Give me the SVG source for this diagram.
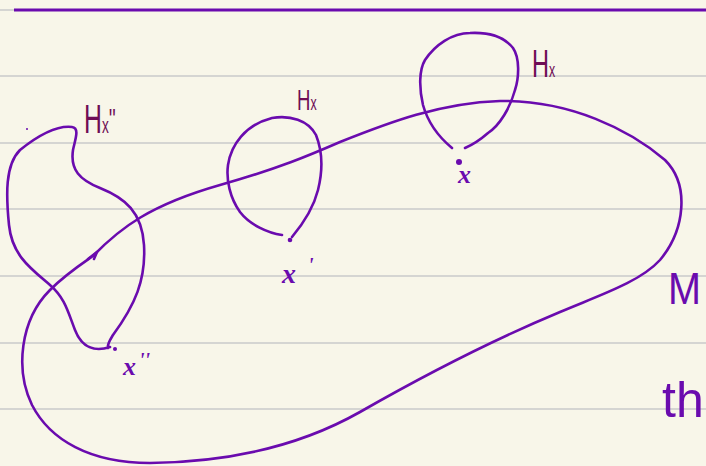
<svg xmlns="http://www.w3.org/2000/svg" width="706" height="466" viewBox="0 0 706 466">
<style>
.rule{stroke:#d5d5d2;stroke-width:2}
.ink{fill:none;stroke:#6a0bae;stroke-width:2.6;stroke-linecap:round;stroke-linejoin:round}
.dot{fill:#6a0bae}
.hl{fill:#6e0d55;font-family:"Liberation Sans",sans-serif}
.pt{fill:#6a0bae;font-family:"Liberation Serif",serif;font-style:italic;font-weight:bold}
.big{fill:#6a0bae;font-family:"Liberation Sans",sans-serif}
</style>
<rect width="706" height="466" fill="#f8f6e9"/>
<g id="paper">
<line class="rule" x1="0" y1="10" x2="14" y2="10"/>
<line class="rule" x1="0" y1="76" x2="706" y2="76"/>
<line class="rule" x1="0" y1="143" x2="706" y2="143"/>
<line class="rule" x1="0" y1="209" x2="706" y2="209"/>
<line class="rule" x1="0" y1="276" x2="706" y2="276"/>
<line class="rule" x1="0" y1="343" x2="706" y2="343"/>
<line class="rule" x1="0" y1="409" x2="706" y2="409"/>
<line x1="14" y1="10" x2="706" y2="10" stroke="#6a0bae" stroke-width="3"/>
</g>
<g id="connectors">
<path class="ink" d="M 93,256 C 120,228 150,205 220,185 C 280,168 310,155 340,142 C 390,122 440,103 500,101 C 570,100 630,130 665,160 C 690,185 685,230 660,260 C 640,282 600,295 560,312 C 500,337 430,372 360,412 C 300,446 230,462 150,463 C 90,463 50,440 32,405 C 15,370 20,320 50,290 C 65,275 80,265 93,256"/>
<path class="ink" d="M 88,259 L 97,252 L 94,259"/>
</g>
<g id="node-x2">
<path class="ink" d="M 110,347 C 95,352 82,348 75,330 C 68,312 65,298 50,285 C 30,268 12,255 9,225 C 6,195 5,165 20,150 C 35,138 55,125 72,127 C 80,128 75,140 73,150 C 70,170 80,180 100,188 C 125,198 142,212 144,245 C 146,280 135,305 113,335 C 110,340 107,344 108,348"/>
<circle class="dot" cx="115" cy="349" r="2"/>
<circle class="dot" cx="27" cy="129" r="1"/>
<text class="hl" transform="translate(84,133) scale(0.62,1)" font-size="40">H<tspan font-size="22">x</tspan><tspan font-size="30" dy="-4">''</tspan></text>
<text class="pt" x="123" y="375" font-size="26">x<tspan font-size="20" dx="3" dy="-8">''</tspan></text>
</g>
<g id="node-x1">
<path class="ink" d="M 282,235 C 268,233 250,225 240,212 C 230,198 226,180 228,165 C 231,145 245,125 272,118 C 290,115 308,120 316,135 C 322,150 323,170 318,190 C 313,210 302,225 292,237"/>
<circle class="dot" cx="290" cy="240" r="2.3"/>
<text class="hl" transform="translate(297,110) scale(0.62,1)" font-size="30">H<tspan font-size="20">x</tspan></text>
<text class="pt" x="282" y="283" font-size="28">x<tspan font-size="20" dx="12" dy="-11">'</tspan></text>
</g>
<g id="node-x">
<path class="ink" d="M 452,148 C 440,138 428,123 423,105 C 419,88 419,70 425,60 C 435,45 452,33 470,33 C 490,32 505,38 513,48 C 520,58 519,78 515,90 C 510,108 500,125 488,133 C 480,140 472,145 465,148"/>
<circle class="dot" cx="459" cy="162" r="3"/>
<text class="hl" transform="translate(532,77) scale(0.62,1)" font-size="38">H<tspan font-size="20">x</tspan></text>
<text class="pt" x="458" y="183" font-size="26">x</text>
</g>
<g id="labels">
<text class="big" transform="translate(668,304) scale(0.9,1)" font-size="44">M</text>
<text class="big" x="662" y="417" font-size="50">th</text>
</g>
</svg>
